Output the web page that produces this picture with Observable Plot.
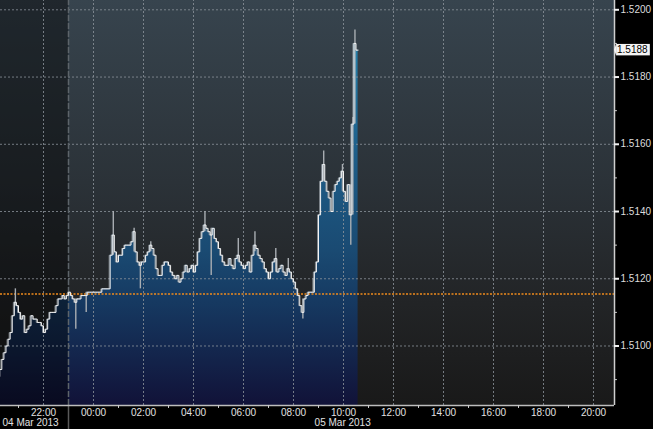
<!DOCTYPE html>
<html><head><meta charset="utf-8">
<script src="https://cdn.jsdelivr.net/npm/d3@7"></script>
<script src="https://cdn.jsdelivr.net/npm/@observablehq/plot@0.6"></script>
<style>
html,body{margin:0;padding:0;background:#000;}
#chart svg{display:block;}
</style></head><body><div id="chart"></div>
<script>
// ---- data ----
const seriesStart = "2013-03-04T20:15:00Z";
const barMinutes = 5;
const closes = [
1.5091,1.5093,1.5096,1.5098,1.5100,1.5102,1.5104,1.5109,1.5113,1.5112,
1.5110,1.5108,1.5109,1.5104,1.5105,1.5106,1.5109,1.5108,1.5108,1.5107,
1.5107,1.5106,1.5104,1.5105,1.5108,1.5110,1.5110,1.5110,1.5112,1.5114,
1.5114,1.5115,1.5114,1.5115,1.5116,1.5115,1.5114,1.5113,1.5114,1.5114,
1.5115,1.5115,1.5115,1.5116,1.5116,1.5116,1.5116,1.5116,1.5116,1.5116,
1.5117,1.5117,1.5117,1.5117,1.5127,1.5133,1.5128,1.5125,1.5127,1.5127,
1.5129,1.5130,1.5130,1.5130,1.5131,1.5134,1.5128,1.5125,1.5124,1.5125,
1.5125,1.5127,1.5128,1.5130,1.5129,1.5127,1.5123,1.5121,1.5121,1.5124,
1.5125,1.5125,1.5124,1.5122,1.5121,1.5120,1.5121,1.5119,1.5120,1.5122,
1.5124,1.5122,1.5123,1.5124,1.5122,1.5124,1.5128,1.5132,1.5134,1.5136,
1.5135,1.5134,1.5133,1.5135,1.5132,1.5131,1.5129,1.5127,1.5125,1.5124,
1.5124,1.5126,1.5124,1.5123,1.5126,1.5127,1.5125,1.5124,1.5123,1.5124,
1.5125,1.5122,1.5127,1.5130,1.5129,1.5127,1.5126,1.5125,1.5123,1.5122,
1.5120,1.5122,1.5125,1.5126,1.5122,1.5123,1.5124,1.5122,1.5121,1.5123,
1.5122,1.5120,1.5119,1.5117,1.5115,1.5112,1.5110,1.5114,1.5115,1.5116,
1.5116,1.5116,1.5122,1.5125,1.5139,1.5149,1.5154,1.5149,1.5146,1.5144,
1.5140,1.5146,1.5148,1.5149,1.5150,1.5152,1.5146,1.5143,1.5148,1.5139,
1.5166,1.5190,1.5188
];
const wickIdx = [8,37,42,55,65,68,73,99,102,115,123,133,139,146,151,156,165,169,170,171];
const wickLo  = [1.5112,1.5105,1.5110,1.5127,1.5128,1.5117,1.5128,1.5134,1.5121,1.5125,1.5128,1.5122,1.5122,1.5108,1.5116,1.5149,1.5146,1.5130,1.5139,1.5166];
const wickHi  = [1.5117,1.5114,1.5116,1.5140,1.5135,1.5125,1.5131,1.5140,1.5135,1.5132,1.5134,1.5129,1.5126,1.5114,1.5120,1.5158,1.5154,1.5148,1.5168,1.5194];

const priceTicks = [1.510, 1.512, 1.514, 1.516, 1.518, 1.520];
const minorPriceTicks = [1.509, 1.511, 1.513, 1.515, 1.517, 1.519];
const hourLabels = ["2013-03-04T22:00Z","2013-03-05T00:00Z","2013-03-05T02:00Z","2013-03-05T04:00Z",
  "2013-03-05T06:00Z","2013-03-05T08:00Z","2013-03-05T10:00Z","2013-03-05T12:00Z","2013-03-05T14:00Z",
  "2013-03-05T16:00Z","2013-03-05T18:00Z","2013-03-05T20:00Z"];
const hourMinor = ["2013-03-04T21:00Z","2013-03-05T01:00Z","2013-03-05T03:00Z","2013-03-05T05:00Z",
  "2013-03-05T07:00Z","2013-03-05T09:00Z","2013-03-05T11:00Z","2013-03-05T13:00Z","2013-03-05T15:00Z",
  "2013-03-05T17:00Z","2013-03-05T19:00Z"];
const dateLabelTimes = ["2013-03-04T21:29Z", "2013-03-05T09:58Z"];
const dateLabelTexts = ["04 Mar 2013", "05 Mar 2013"];
const sessionOpen = "2013-03-04T23:00:00Z";
const refPrice = 1.51155;
const lastPrice = 1.5188;
const xDomainStr = ["2013-03-04T20:16:48Z", "2013-03-05T20:50:24Z"];
const yDomain = [1.50823, 1.520277];

// ---- build ----
const FONT = '"Liberation Sans","DejaVu Sans",sans-serif';
const t0 = new Date(seriesStart);
const timeAt = i => d3.utcMinute.offset(t0, barMinutes * i);
const bars = closes.map((v, i) => ({t: timeAt(i), v}));
const wicks = wickIdx.map((i, k) => ({t: d3.utcSecond.offset(timeAt(i), -150), lo: wickLo[k], hi: wickHi[k]}));
const xStart = new Date(xDomainStr[0]), xEnd = new Date(xDomainStr[1]);
const session = new Date(sessionOpen);
const yMin = yDomain[0], yMax = yDomain[1];
const below = (px) => yMin - px * 0.01 / 336.2;
const after = (m) => d3.utcMinute.offset(xEnd, m);
const fmtH = d3.utcFormat("%H:%M");
const tagHalf = 0.00017;
const pointer = [
  {x: d3.utcMinute.offset(xEnd, 0.5), lo: lastPrice, hi: lastPrice},
  {x: after(5), lo: lastPrice - tagHalf, hi: lastPrice + tagHalf}
];

const svg = Plot.plot({
  width: 653, height: 429,
  marginLeft: 0, marginRight: 39, marginTop: 0, marginBottom: 24,
  style: {background: "#000", fontFamily: FONT, overflow: "visible"},
  x: {type: "utc", domain: [xStart, xEnd], axis: null},
  y: {domain: yDomain, axis: null},
  marks: [
    // background
    Plot.rect([0], {x1: xStart, x2: xEnd, y1: yMin, y2: yMax, fill: "url(#bgGrad)"}),
    // area
    Plot.areaY(bars, {x: "t", y1: yMin, y2: "v", curve: "step-before", fill: "url(#areaGrad)"}),
    // darker pre-session
    Plot.rect([0], {x1: xStart, x2: session, y1: yMin, y2: yMax, fill: "#000", fillOpacity: 0.42}),
    // grids
    Plot.ruleY(priceTicks, {x1: xStart, x2: xEnd, stroke: "#8c949b", strokeOpacity: 0.8, strokeDasharray: "2,2", strokeWidth: 1}),
    Plot.ruleX(hourLabels.map(d => new Date(d)), {y1: yMin, y2: yMax, stroke: "#8c949b", strokeOpacity: 0.8, strokeDasharray: "2,2", strokeWidth: 1}),
    Plot.ruleX([session], {y1: yMin, y2: yMax, stroke: "#5d646a", strokeDasharray: "6,2", strokeWidth: 1.5}),
    Plot.ruleX([session], {y1: below(24), y2: yMin, stroke: "#5a5a5a", strokeWidth: 1.5}),
    // reference price
    Plot.ruleY([refPrice], {x1: xStart, x2: xEnd, stroke: "#f08a1c", strokeWidth: 1.5, strokeDasharray: "2,1.5"}),
    // price line
    Plot.ruleX(wicks, {x: "t", y1: "lo", y2: "hi", stroke: "#a9aeb3", strokeWidth: 1.4}),
    Plot.lineY(bars, {x: "t", y: "v", curve: "step-before", stroke: "#9aa1a7", strokeWidth: 1, strokeOpacity: 0.8, dx: -1}),
    Plot.lineY(bars, {x: "t", y: "v", curve: "step-before", stroke: "#f4f4f4", strokeWidth: 1}),
    // bottom axis
    Plot.ruleY([yMin], {x1: xStart, x2: xEnd, stroke: "#bdbdbd", strokeWidth: 1.5}),
    Plot.ruleX(hourMinor.map(d => new Date(d)), {y1: below(3), y2: yMin, stroke: "#cfcfcf", strokeWidth: 1}),
    Plot.text(hourLabels.map(d => new Date(d)), {x: d => d, y: yMin, dy: 7, text: d => fmtH(d), fill: "#e2e2e2", fontSize: 10, fontFamily: FONT}),
    Plot.text(dateLabelTimes.map((d, i) => ({t: new Date(d), s: dateLabelTexts[i]})), {x: "t", y: yMin, dy: 17.5, text: "s", fill: "#e2e2e2", fontSize: 10, fontFamily: FONT}),
    // right axis
    Plot.ruleX([xEnd], {y1: yMin, y2: yMax, stroke: "#cfcfcf", strokeWidth: 1.5}),
    Plot.ruleY(priceTicks, {x1: xEnd, x2: after(12), stroke: "#f0f0f0", strokeWidth: 2}),
    Plot.ruleY(minorPriceTicks, {x1: xEnd, x2: after(7), stroke: "#cfcfcf", strokeWidth: 1}),
    Plot.text(priceTicks, {x: xEnd, y: d => d, dx: 6, text: d => d.toFixed(4), textAnchor: "start", fill: "#dcdcdc", fontSize: 10, fontFamily: FONT}),
    // last price tag
    Plot.areaY(pointer, {x: "x", y1: "lo", y2: "hi", fill: "#f4f4f4"}),
    Plot.rect([lastPrice], {x1: after(5), x2: after(86), y1: d => d - tagHalf, y2: d => d + tagHalf, fill: "#f4f4f4"}),
    Plot.text([lastPrice], {x: after(6), y: d => d, dx: 0, text: d => d.toFixed(4), textAnchor: "start", fill: "#000", fontSize: 10, fontFamily: FONT})
  ]
});

const defs = d3.select(svg).insert("defs", ":first-child");
const bg = defs.append("linearGradient").attr("id", "bgGrad").attr("gradientUnits", "userSpaceOnUse")
  .attr("x1", 0).attr("x2", 0).attr("y1", 0).attr("y2", 405);
[[0, "#37444e"], [0.45, "#2b3238"], [0.75, "#222426"], [1, "#191919"]].forEach(([o, c]) => bg.append("stop").attr("offset", o).attr("stop-color", c));
const ag = defs.append("linearGradient").attr("id", "areaGrad").attr("gradientUnits", "userSpaceOnUse")
  .attr("x1", 0).attr("x2", 0).attr("y1", 0).attr("y2", 405);
[[0, "#2790bc"], [0.37, "#1e5f8a"], [0.62, "#1a4a72"], [0.74, "#163a62"], [1, "#111238"]].forEach(([o, c]) => ag.append("stop").attr("offset", o).attr("stop-color", c));

document.getElementById("chart").appendChild(svg);
</script></body></html>
